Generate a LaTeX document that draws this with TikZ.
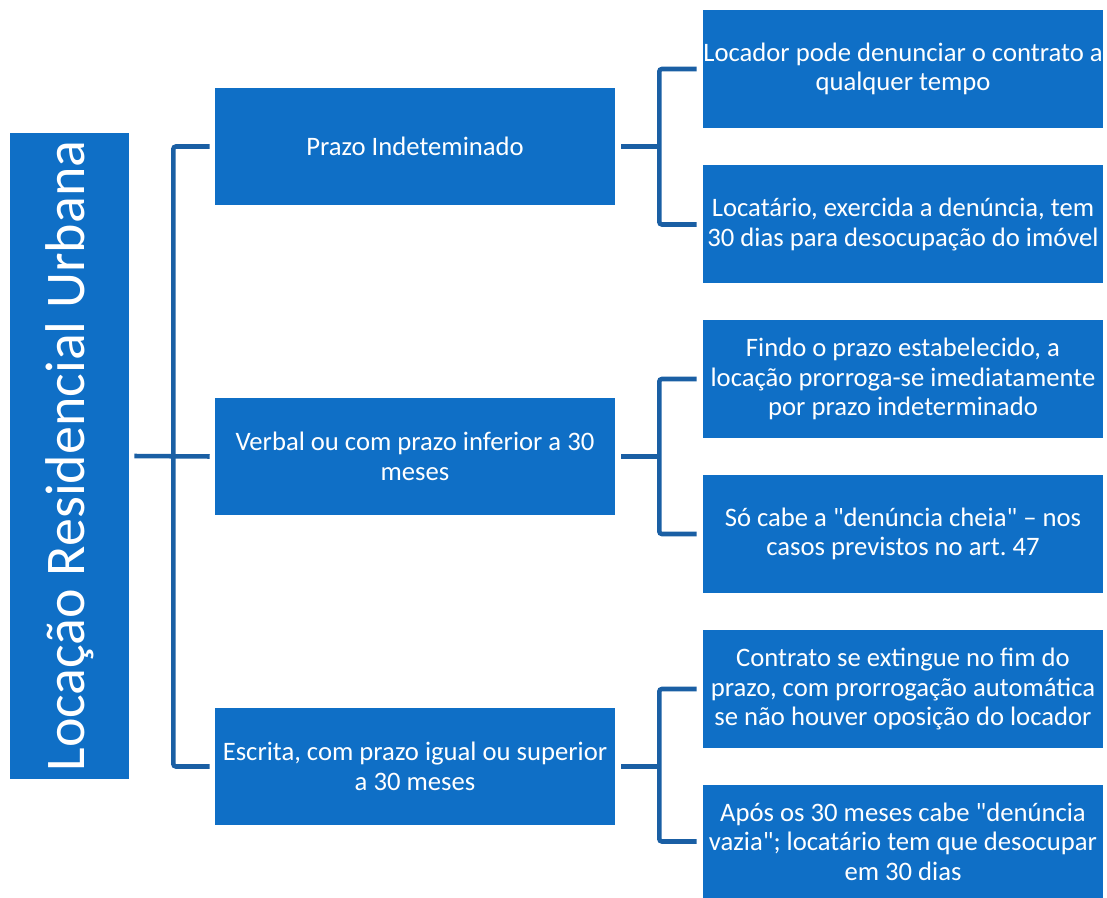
\documentclass[tikz,border=0pt]{standalone}
\usepackage{fontspec}
\setmainfont{Carlito}[Ligatures=TeXOff]
\usetikzlibrary{positioning, calc}
\definecolor{boxblue}{HTML}{0F6FC6}
\definecolor{lineblue}{HTML}{1A5FA4}

\begin{document}
\begin{tikzpicture}[x=0.75pt, y=-0.75pt,
    box/.style={fill=boxblue, text=white, align=center, inner sep=0pt, font=\fontsize{20}{22.2}\selectfont},
    midbox/.style={box, minimum width=300pt, minimum height=87.75pt},
    leafbox/.style={box, minimum width=300pt, minimum height=88.5pt},
    conn/.style={draw=lineblue, line width=3.4pt, rounded corners=2pt}]
    \useasboundingbox (0,0) rectangle (1107,898);

    \node[box, minimum width=89.25pt, minimum height=484.5pt] (root) at (69.5,456) {};
    \node[white, rotate=90, font=\fontsize{42}{44}\selectfont] (roottext) at (root.center) {Locação Residencial Urbana};

    \node[midbox] (indet) at (415,146.5) {Prazo Indeteminado};
    \node[midbox] (verbal) at (415,456.5) {Verbal ou com prazo inferior a 30\\meses};
    \node[midbox] (escrita) at (415,766.5) {Escrita, com prazo igual ou superior\\a 30 meses};

    \node[leafbox] (denuncia) at (903,69) {Locador pode denunciar o contrato a\\qualquer tempo};
    \node[leafbox] (desocupa) at (903,224.5) {Locatário, exercida a denúncia, tem\\30 dias para desocupação do imóvel};
    \node[leafbox] (findo) at (903,379) {Findo o prazo estabelecido, a\\locação prorroga-se imediatamente\\por prazo indeterminado};
    \node[leafbox] (cheia) at (903,534) {Só cabe a "denúncia cheia" – nos\\casos previstos no art.\ 47};
    \node[leafbox] (extingue) at (903,689) {Contrato se extingue no fim do\\prazo, com prorrogação automática\\se não houver oposição do locador};
    \node[leafbox, minimum height=84.75pt] (vazia) at (903,841.5) {Após os 30 meses cabe "denúncia\\vazia"; locatário tem que desocupar\\em 30 dias};

    % root to middle column
    \draw[conn] ($(indet.west)+(-5,0)$) -| ($(root.east)+(44,0)$) |- ($(escrita.west)+(-5,0)$);
    \draw[conn] ($(root.east)+(5,0)$) -- ($(verbal.west)+(-5,0)$);

    % middle to right column
    \foreach \m/\a/\b in {indet/denuncia/desocupa, verbal/findo/cheia, escrita/extingue/vazia} {
        \draw[conn] ($(\a.west)+(-6,0)$) -| ($(\m.east)+(44,0)$) |- ($(\b.west)+(-6,0)$);
        \draw[conn] ($(\m.east)+(6,0)$) -- ($(\m.east)+(44,0)$);
    }
\end{tikzpicture}
\end{document}
